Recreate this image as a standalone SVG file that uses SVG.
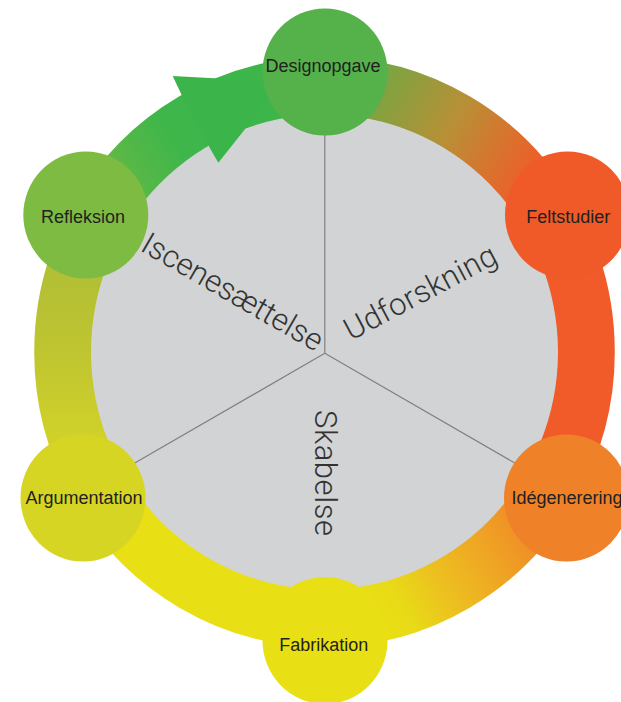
<svg xmlns="http://www.w3.org/2000/svg" width="621" height="702" viewBox="0 0 621 702">
<style>
.ring{fill:none;stroke-width:57.5;stroke-linecap:butt}
.lbl{font-family:"Liberation Sans",Arial,sans-serif;font-size:18px;fill:#231f20}
.big{font-family:Roboto,"Liberation Sans",sans-serif;font-weight:300;font-size:31px;fill:#333}
.spoke{stroke:#808080;stroke-width:1.2;fill:none}
</style>
<defs>
<linearGradient id="g1" gradientUnits="userSpaceOnUse" x1="0" y1="-261.5" x2="226.5" y2="-130.75">
<stop offset="0" stop-color="#5fab46"/><stop offset="0.2" stop-color="#80a340"/><stop offset="0.5" stop-color="#b98f36"/><stop offset="0.78" stop-color="#e4682b"/><stop offset="0.9" stop-color="#f05a28"/><stop offset="1" stop-color="#f05a28"/>
</linearGradient>
<linearGradient id="g3" gradientUnits="userSpaceOnUse" x1="226.5" y1="130.75" x2="0" y2="261.5">
<stop offset="0" stop-color="#f07a28"/><stop offset="0.2" stop-color="#ef9226"/><stop offset="0.34" stop-color="#efa524"/><stop offset="0.57" stop-color="#ecc31f"/><stop offset="0.72" stop-color="#e8da17"/><stop offset="0.85" stop-color="#e8e014"/><stop offset="1" stop-color="#e8e014"/>
</linearGradient>
<linearGradient id="g5" gradientUnits="userSpaceOnUse" x1="-226.5" y1="130.75" x2="-226.5" y2="-130.75">
<stop offset="0" stop-color="#d6d424"/><stop offset="0.2" stop-color="#cfd02a"/><stop offset="0.5" stop-color="#bfc530"/><stop offset="0.75" stop-color="#b4c034"/><stop offset="1" stop-color="#a8bf37"/>
</linearGradient>
<linearGradient id="g6" gradientUnits="userSpaceOnUse" x1="-226.5" y1="-130.75" x2="0" y2="-261.5">
<stop offset="0" stop-color="#7cba42"/><stop offset="0.22" stop-color="#55b847"/><stop offset="0.4" stop-color="#3fb64a"/><stop offset="1" stop-color="#3bb54a"/>
</linearGradient>
</defs>
<g id="cycle-ring" transform="translate(324.5,352) scale(1,1.017)">
<path class="ring" stroke="url(#g1)" d="M0 -261.5 A261.5 261.5 0 0 1 226.5 -130.75"/>
<path class="ring" stroke="#f15a29" d="M226.5 -130.75 A261.5 261.5 0 0 1 226.5 130.75"/>
<path class="ring" stroke="url(#g3)" d="M226.5 130.75 A261.5 261.5 0 0 1 0 261.5"/>
<path class="ring" stroke="#e8e014" d="M0 261.5 A261.5 261.5 0 0 1 -226.5 130.75"/>
<path class="ring" stroke="url(#g5)" d="M-226.5 130.75 A261.5 261.5 0 0 1 -226.5 -130.75"/>
<path class="ring" stroke="url(#g6)" d="M-226.5 -130.75 A261.5 261.5 0 0 1 0 -261.5"/>
<circle cx="0" cy="0" r="233.5" fill="#d1d3d4"/>
</g>
<g id="connectors">
<path class="spoke" d="M324.8 353.3 V125 M324.8 353.3 L130 465.8 M324.8 353.3 L519.6 465.8"/>
<polygon id="arrowhead" fill="#3bb54a" points="172.7,76 282.4,81.9 218.3,162.7 210,148.3 182.7,97.3"/>
</g>
<g id="sectors">
<text class="big" transform="translate(139,250) rotate(30)" textLength="204" lengthAdjust="spacing">Iscenesættelse</text>
<text class="big" transform="translate(351,341) rotate(-28)" textLength="168" lengthAdjust="spacing">Udforskning</text>
<text class="big" transform="translate(315,410) rotate(90)" textLength="126" lengthAdjust="spacing">Skabelse</text>
</g>
<g id="node-designopgave"><ellipse cx="325" cy="72" rx="62.5" ry="63.5" fill="#55b14a"/><text class="lbl" x="323" y="72.3" text-anchor="middle">Designopgave</text></g>
<g id="node-feltstudier"><ellipse cx="567.5" cy="215" rx="62.5" ry="63.5" fill="#f05a28"/><text class="lbl" x="568.3" y="223" text-anchor="middle">Feltstudier</text></g>
<g id="node-idegenerering"><ellipse cx="566.5" cy="498" rx="62.5" ry="63.5" fill="#ef8229"/><text class="lbl" x="511.5" y="503.5">Idégenerering</text></g>
<g id="node-fabrikation"><ellipse cx="325" cy="640.5" rx="62.5" ry="63.5" fill="#e8e014"/><text class="lbl" x="323.8" y="650.7" text-anchor="middle">Fabrikation</text></g>
<g id="node-argumentation"><ellipse cx="83" cy="498" rx="62.5" ry="63.5" fill="#d7d523"/><text class="lbl" x="84" y="503.5" text-anchor="middle">Argumentation</text></g>
<g id="node-refleksion"><ellipse cx="85.8" cy="215" rx="62.5" ry="63.5" fill="#7dbb42"/><text class="lbl" x="83" y="223" text-anchor="middle">Refleksion</text></g>
</svg>
